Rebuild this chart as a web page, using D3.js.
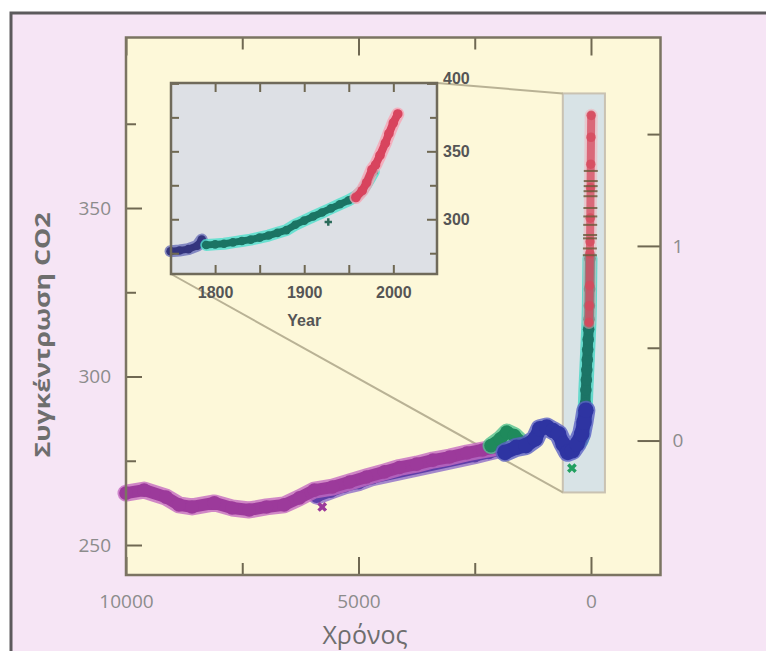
<!DOCTYPE html>
<html>
<head>
<meta charset="utf-8">
<script src="https://cdn.jsdelivr.net/npm/d3@7"></script>
<style>
  body { margin: 0; background: #fff; }
  .tick line { stroke: #6f6852; stroke-width: 2; }
</style>
</head>
<body>
<div id="chart"></div>
<script>
///////////// data //////////////
// main plot: years before present (0 = AD 2000), CO2 in ppm
const purpleYears = [10000, 9610, 9140, 8860, 8580, 8100, 7720, 7350, 6980, 6600, 6270, 5950, 5560, 5190, 4830, 4440, 4120, 3750, 3400, 3040, 2670, 2330, 1960];
const purpleCO2   = [265.4, 266.3, 264.2, 261.9, 261.3, 262.5, 261.0, 260.4, 261.3, 261.9, 264.0, 266.3, 267.2, 268.7, 270.2, 271.7, 273.0, 274.0, 275.2, 276.1, 277.3, 278.2, 279.1];
const violetYears = [5900, 5600, 5300, 5000, 4700, 2500, 2200, 1900];
const violetCO2   = [264.5, 266, 267.5, 268.5, 270, 276.5, 277.5, 278.5];
const greenYears  = [2150, 1950, 1810, 1650, 1500];
const greenCO2    = [279.5, 281.5, 283.5, 282.5, 280.5];
const blueYears   = [1850, 1600, 1400, 1200, 1100, 950, 820, 700, 600, 500, 400, 300, 200, 150, 110];
const blueCO2     = [277.5, 279, 279.5, 281.5, 284.5, 285, 284, 283, 280, 277.5, 278, 280, 283, 286.5, 290];
// short dark dashes on the modern column
const dashYears   = [25, 23, 21, 19, 17, 15, 13, 11, 9, 7, 5, 4];
const dashCO2     = [336, 338, 341, 342, 345, 347.5, 350, 353.5, 355, 356.5, 358, 361];
// stray markers [years BP, CO2]
const mainOutliers = [[5780, 261.3, 'purple'], [410, 272.8, 'green']];

// inset: calendar years, CO2 in ppm
const insetBlueYears = [1750, 1760, 1770, 1780, 1785];
const insetBlueCO2   = [276.5, 277, 278, 280.5, 285];
const tealYears = [1790, 1800, 1810, 1820, 1830, 1840, 1850, 1860, 1870, 1880, 1890, 1900, 1910, 1920, 1930, 1940, 1950, 1958, 1965, 1970, 1978];
const tealCO2   = [281, 281.5, 282, 283, 284, 285, 286.5, 288, 290, 292, 296, 299, 302, 305, 308, 311, 314, 317, 321, 326, 335];
const redYears  = [1958, 1965, 1970, 1976, 1980, 1985, 1991, 1995, 2000, 2005];
const redCO2    = [316, 321, 327, 336.5, 340, 347, 356, 363, 371, 377.5];
const insetOutliers = [[1927, 298]];

// tick values
const xMajor = [10000, 5000, 0];
const xMinor = [7500, 2500];
const yMajor = [250, 300, 350];
const yMinor = [275, 325, 375];
const forcingMajor = [0, 1];
const forcingMinor = [0.5, 1.5];
const insetXTicks = [1800, 1850, 1900, 1950, 2000];
const insetXLabels = [1800, 1900, 2000];
const insetYMajor = [300, 350, 400];
const insetYMinor = [275, 325, 375];

///////////// layout //////////////
const W = 766, H = 651;
const plot = {left: 126, top: 37.5, right: 660.5, bottom: 575};
const inset = {left: 171, top: 83, right: 437, bottom: 274};
const C0 = 281; // CO2 at zero forcing

const svg = d3.select('#chart').append('svg')
  .attr('width', W)
  .attr('height', H)
  .style('display', 'block');

// outer frame
svg.append('rect')
  .attr('x', 11).attr('y', 13)
  .attr('width', W + 20).attr('height', H + 20)
  .attr('fill', '#f6e5f5')
  .attr('stroke', '#5c5a5c')
  .attr('stroke-width', 3);

// main plot area
svg.append('rect')
  .attr('x', plot.left).attr('y', plot.top)
  .attr('width', plot.right - plot.left).attr('height', plot.bottom - plot.top)
  .attr('fill', '#fdf8d9');

const x = d3.scaleLinear().domain([10000, -1495]).range([plot.left, plot.right]);
const y = d3.scaleLinear().domain([241.1, 400.6]).range([plot.bottom, plot.top]);
const forcingToCO2 = f => C0 * Math.exp(f / 5.35);

const ix = d3.scaleLinear().domain([1750.5, 2049]).range([inset.left, inset.right]);
const iy = d3.scaleLinear().domain([259.7, 400.3]).range([inset.bottom, inset.top]);

// highlight box for the zoomed period
svg.append('rect')
  .attr('x', x(606)).attr('y', y(384))
  .attr('width', x(-300) - x(606)).attr('height', y(265.6) - y(384))
  .attr('fill', '#d8e3e6')
  .attr('stroke', '#c9c2b2')
  .attr('stroke-width', 2);

// callout lines
svg.append('line')
  .attr('x1', inset.right).attr('y1', inset.top)
  .attr('x2', x(606)).attr('y2', y(384))
  .attr('stroke', '#b9b295').attr('stroke-width', 2);
svg.append('line')
  .attr('x1', inset.left).attr('y1', inset.bottom)
  .attr('x2', x(606)).attr('y2', y(265.6))
  .attr('stroke', '#b9b295').attr('stroke-width', 2);

function zip(a, b) { return a.map((v, i) => [v, b[i]]); }

// draws a thick marker band: halo + core + dots
function band(g, pts, sx, sy, core, halo, w) {
  const line = d3.line().x(d => sx(d[0])).y(d => sy(d[1])).curve(d3.curveLinear);
  g.append('path').attr('d', line(pts))
    .attr('fill', 'none').attr('stroke', halo).attr('stroke-width', w + 5)
    .attr('stroke-linejoin', 'round').attr('stroke-linecap', 'round').attr('opacity', 0.8);
  g.append('path').attr('d', line(pts))
    .attr('fill', 'none').attr('stroke', core).attr('stroke-width', w)
    .attr('stroke-linejoin', 'round').attr('stroke-linecap', 'round');
  g.selectAll(null).data(pts).enter().append('circle')
    .attr('cx', d => sx(d[0])).attr('cy', d => sy(d[1]))
    .attr('r', w / 2 + 0.8)
    .attr('fill', core);
}

const toBP = yr => 2000 - yr;

const main = svg.append('g');
band(main, zip(violetYears, violetCO2), x, y, '#5e3ea8', '#8f6cc8', 12);
band(main, zip(purpleYears, purpleCO2), x, y, '#9c3a9b', '#c46ac0', 12);
band(main, zip(greenYears, greenCO2), x, y, '#1f8a5c', '#52c08e', 12);
band(main, zip(tealYears.map(toBP), tealCO2), x, y, '#1c7466', '#48d6c6', 10);
band(main, zip(blueYears, blueCO2), x, y, '#2e34a2', '#5a60c4', 14);
band(main, zip(redYears.map(toBP), redCO2), x, y, 'rgba(214,72,92,0.75)', 'rgba(246,170,178,0.6)', 8);

main.selectAll('.dash').data(zip(dashYears, dashCO2)).enter().append('line')
  .attr('class', 'dash')
  .attr('x1', d => x(d[0]) - 7).attr('x2', d => x(d[0]) + 7)
  .attr('y1', d => y(d[1])).attr('y2', d => y(d[1]))
  .attr('stroke', '#6a5a3a').attr('stroke-width', 2).attr('opacity', 0.8);

const outlierColor = {purple: '#9c3a9b', green: '#22a060'};
main.selectAll('.outlier').data(mainOutliers).enter().append('path')
  .attr('class', 'outlier')
  .attr('transform', d => `translate(${x(d[0])},${y(d[1])}) rotate(45)`)
  .attr('d', d3.symbol(d3.symbolCross, 60))
  .attr('fill', d => outlierColor[d[2]]);

// main axes
function styleLabels(g, size, color, weight, family) {
  g.selectAll('text')
    .attr('fill', color)
    .style('font-size', size + 'px')
    .style('font-weight', weight)
    .style('font-family', family);
  g.select('.domain').remove();
}
const labelFont = '"Open Sans", "DejaVu Sans", sans-serif';

svg.append('g')
  .attr('transform', `translate(0,${plot.bottom})`)
  .call(d3.axisBottom(x).tickValues(xMajor).tickSize(-18).tickPadding(20).tickFormat(d3.format('d')))
  .call(g => styleLabels(g, 19, '#8c8c8c', 400, labelFont));
svg.append('g')
  .attr('transform', `translate(0,${plot.bottom})`)
  .call(d3.axisBottom(x).tickValues(xMinor).tickSize(-12).tickFormat(''))
  .call(g => g.select('.domain').remove());
svg.append('g')
  .attr('transform', `translate(0,${plot.top})`)
  .call(d3.axisTop(x).tickValues(xMajor).tickSize(-18).tickFormat(''))
  .call(g => g.select('.domain').remove());
svg.append('g')
  .attr('transform', `translate(0,${plot.top})`)
  .call(d3.axisTop(x).tickValues(xMinor).tickSize(-12).tickFormat(''))
  .call(g => g.select('.domain').remove());

svg.append('g')
  .attr('transform', `translate(${plot.left},0)`)
  .call(d3.axisLeft(y).tickValues(yMajor).tickSize(-16).tickPadding(15))
  .call(g => styleLabels(g, 19, '#8c8c8c', 400, labelFont));
svg.append('g')
  .attr('transform', `translate(${plot.left},0)`)
  .call(d3.axisLeft(y).tickValues(yMinor).tickSize(-10).tickFormat(''))
  .call(g => g.select('.domain').remove());

// right axis: radiative forcing (log of CO2)
svg.append('g')
  .attr('transform', `translate(${plot.right},0)`)
  .call(d3.axisRight(y).tickValues(forcingMajor.map(forcingToCO2)).tickSize(-23).tickPadding(12)
    .tickFormat(v => d3.format('d')(Math.round(5.35 * Math.log(v / C0)))))
  .call(g => styleLabels(g, 19, '#8c8c8c', 400, labelFont));
svg.append('g')
  .attr('transform', `translate(${plot.right},0)`)
  .call(d3.axisRight(y).tickValues(forcingMinor.map(forcingToCO2)).tickSize(-13).tickFormat(''))
  .call(g => g.select('.domain').remove());

// main frame
svg.append('rect')
  .attr('x', plot.left).attr('y', plot.top)
  .attr('width', plot.right - plot.left).attr('height', plot.bottom - plot.top)
  .attr('fill', 'none')
  .attr('stroke', '#7b7462')
  .attr('stroke-width', 2.5);

// axis titles
svg.append('text')
  .attr('transform', 'translate(41,335) rotate(-90)')
  .attr('text-anchor', 'middle')
  .attr('dominant-baseline', 'central')
  .attr('fill', '#6e6e6e')
  .attr('textLength', 245)
  .attr('lengthAdjust', 'spacingAndGlyphs')
  .style('font-family', labelFont)
  .style('font-weight', 700)
  .style('font-size', '22px')
  .text('Συγκέντρωση CO2');

svg.append('text')
  .attr('x', 365).attr('y', 634)
  .attr('text-anchor', 'middle')
  .attr('dominant-baseline', 'central')
  .attr('fill', '#6e6e6e')
  .style('font-family', labelFont)
  .style('font-size', '25px')
  .text('Χρόνος');

///////////// inset //////////////
svg.append('rect')
  .attr('x', inset.left).attr('y', inset.top)
  .attr('width', inset.right - inset.left).attr('height', inset.bottom - inset.top)
  .attr('fill', '#dde0e5');

const ins = svg.append('g');
band(ins, zip(insetBlueYears, insetBlueCO2), ix, iy, '#34357e', '#6c70b8', 7);
band(ins, zip(tealYears, tealCO2), ix, iy, '#1b7464', '#4fe0cc', 7);
band(ins, zip(redYears, redCO2), ix, iy, '#d8445e', '#f7a4b4', 8);
ins.selectAll('.outlier').data(insetOutliers).enter().append('path')
  .attr('class', 'outlier')
  .attr('transform', d => `translate(${ix(d[0])},${iy(d[1])})`)
  .attr('d', d3.symbol(d3.symbolCross, 30))
  .attr('fill', '#2a6a5a');

const insetFont = '"Liberation Sans", Arial, sans-serif';
svg.append('g')
  .attr('transform', `translate(0,${inset.bottom})`)
  .call(d3.axisBottom(ix).tickValues(insetXTicks).tickSize(-9).tickPadding(13)
    .tickFormat(d => insetXLabels.includes(d) ? d : ''))
  .call(g => styleLabels(g, 16, '#555', 700, insetFont));
svg.append('g')
  .attr('transform', `translate(0,${inset.top})`)
  .call(d3.axisTop(ix).tickValues(insetXTicks).tickSize(-9).tickFormat(''))
  .call(g => g.select('.domain').remove());
svg.append('g')
  .attr('transform', `translate(${inset.right},0)`)
  .call(d3.axisRight(iy).tickValues(insetYMajor).tickSize(-10).tickPadding(6))
  .call(g => styleLabels(g, 16, '#555', 700, insetFont))
  .call(g => g.selectAll('text').filter(d => d === 400).attr('dy', '0.02em'));
svg.append('g')
  .attr('transform', `translate(${inset.right},0)`)
  .call(d3.axisRight(iy).tickValues(insetYMinor).tickSize(-7).tickFormat(''))
  .call(g => g.select('.domain').remove());
svg.append('g')
  .attr('transform', `translate(${inset.left},0)`)
  .call(d3.axisLeft(iy).tickValues(insetYMajor.concat(insetYMinor)).tickSize(-8).tickFormat(''))
  .call(g => g.select('.domain').remove());

svg.append('rect')
  .attr('x', inset.left).attr('y', inset.top)
  .attr('width', inset.right - inset.left).attr('height', inset.bottom - inset.top)
  .attr('fill', 'none')
  .attr('stroke', '#6f6a5a')
  .attr('stroke-width', 2.5);

svg.append('text')
  .attr('x', ix(1900)).attr('y', 320)
  .attr('text-anchor', 'middle')
  .attr('dominant-baseline', 'central')
  .attr('fill', '#555')
  .style('font-family', insetFont)
  .style('font-weight', 700)
  .style('font-size', '16px')
  .text('Year');
</script>
</body>
</html>
